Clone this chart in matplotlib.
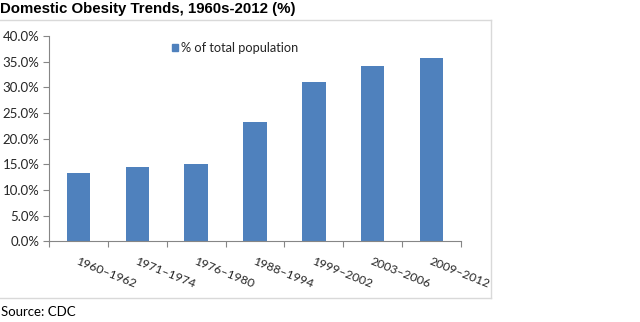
import matplotlib
matplotlib.use("Agg")
import matplotlib.pyplot as plt
from matplotlib.lines import Line2D
from matplotlib.ticker import FuncFormatter, MultipleLocator

periods = ["1960–1962", "1971–1974", "1976–1980", "1988–1994",
           "1999–2002", "2003–2006", "2009–2012"]
obesity_pct = [13.3, 14.5, 15.1, 23.3, 31.0, 34.2, 35.7]
series_name = "% of total population"
title = "Domestic Obesity Trends, 1960s-2012 (%)"
source = "Source: CDC"

W, H = 640, 322
fig = plt.figure(figsize=(W / 100, H / 100), dpi=100)

bar_color = "#4F81BD"
axis_color = "#868686"
frame_color = "#D9D9D9"
body_font = "Lato"

ax = fig.add_axes([49 / W, 80.7 / H, (461 - 49) / W, (286 - 80.7) / H])
x = range(len(periods))
ax.bar(x, obesity_pct, width=0.4, color=bar_color, zorder=2)

ax.set_xlim(-0.5, len(periods) - 0.5)
ax.set_ylim(0, 40)
ax.yaxis.set_major_locator(MultipleLocator(5))
ax.yaxis.set_major_formatter(FuncFormatter(lambda v, _: f"{v:.1f}%"))

for s in ("top", "right"):
    ax.spines[s].set_visible(False)
for s in ("left", "bottom"):
    ax.spines[s].set_color(axis_color)
    ax.spines[s].set_linewidth(0.8)

ax.tick_params(axis="y", direction="out", length=4, width=0.8, color=axis_color,
               labelsize=9.5, labelcolor="#262626", pad=3)
for lab in ax.get_yticklabels():
    lab.set_fontfamily(body_font)

# Category ticks sit on the boundaries between bars
ax.set_xticks([i - 0.5 for i in range(len(periods) + 1)])
ax.set_xticklabels([])
ax.tick_params(axis="x", direction="out", length=4, width=0.8, color=axis_color)

for i, p in enumerate(periods):
    ax.annotate(p, xy=(i, 0), xycoords="data", xytext=(0.3, -10),
                textcoords="offset points", rotation=-22, rotation_mode="anchor",
                ha="left", va="top", fontsize=8.8, family=body_font,
                color="#262626", annotation_clip=False)

# Legend
fig.patches.append(plt.Rectangle((172 / W, 1 - 50.5 / H), 6 / W, 6 / H,
                                 transform=fig.transFigure, color=bar_color))
fig.text(181 / W, 1 - 47.5 / H, series_name, fontsize=9.2, family=body_font,
         color="#262626", va="center", ha="left")

# Chart frame
fig.add_artist(Line2D([0, 491 / W], [1 - 19.5 / H, 1 - 19.5 / H],
                      transform=fig.transFigure, color=frame_color, lw=1))
fig.add_artist(Line2D([491 / W, 491 / W], [1 - 19.5 / H, 1 - 297.7 / H],
                      transform=fig.transFigure, color=frame_color, lw=1))
fig.add_artist(Line2D([0, 491 / W], [1 - 297.7 / H, 1 - 297.7 / H],
                      transform=fig.transFigure, color=frame_color, lw=1))

fig.text(0.5 / W, 1 - 9.5 / H, title, fontsize=10.8, fontweight="bold",
         family="Liberation Sans", va="center", ha="left", color="black")
fig.text(1 / W, 1 - 312 / H, source, fontsize=9.5, family=body_font,
         va="center", ha="left", color="black")

fig.savefig("out.png", dpi=100)
